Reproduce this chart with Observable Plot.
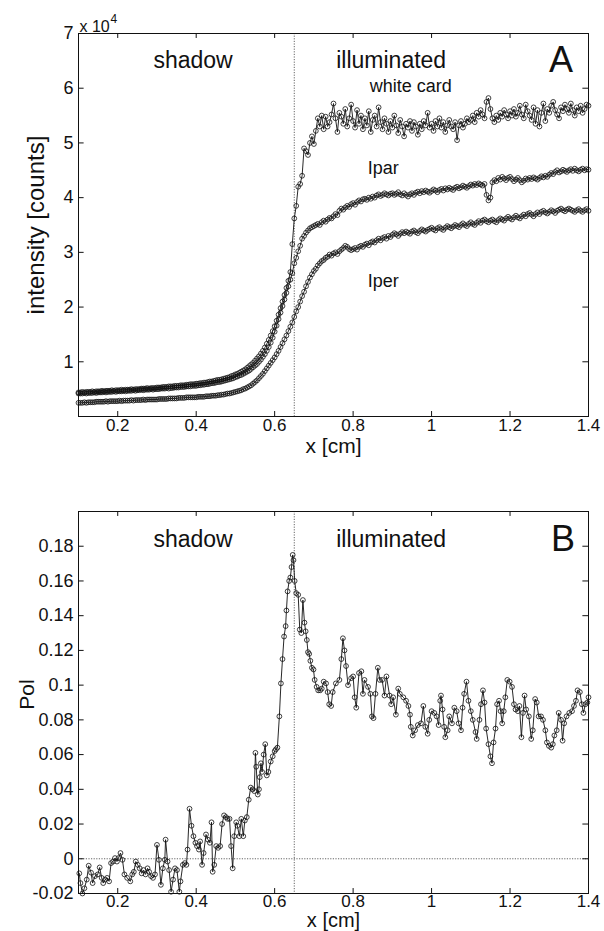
<!DOCTYPE html>
<html><head><meta charset="utf-8">
<script src="https://cdn.jsdelivr.net/npm/d3@7"></script>
<script src="https://cdn.jsdelivr.net/npm/@observablehq/plot@0.6"></script>
<style>
body{margin:0;background:#fff;font-family:"Liberation Sans",Arial,sans-serif}
#chart svg{display:block}
</style></head><body><div id="chart"></div>
<script>
// ---------- data ----------
// Panel A: sample grid start/step (cm); intensities in units of 10^4 counts
const xStart = 0.1, xStep = 0.005;
const whiteCard = [
0.44,0.44,0.45,0.44,0.45,0.45,0.45,0.46,0.45,0.46,
0.46,0.46,0.47,0.46,0.47,0.47,0.47,0.48,0.47,0.48,
0.48,0.48,0.49,0.48,0.49,0.49,0.49,0.50,0.49,0.50,
0.50,0.50,0.51,0.51,0.51,0.52,0.51,0.52,0.52,0.52,
0.53,0.53,0.53,0.54,0.54,0.54,0.55,0.55,0.55,0.56,
0.56,0.56,0.57,0.57,0.57,0.58,0.58,0.59,0.59,0.59,
0.60,0.60,0.61,0.61,0.62,0.62,0.63,0.64,0.64,0.65,
0.66,0.67,0.67,0.68,0.69,0.70,0.71,0.72,0.74,0.75,
0.77,0.78,0.80,0.82,0.84,0.86,0.89,0.92,0.95,0.98,
1.02,1.06,1.10,1.15,1.20,1.26,1.33,1.40,1.48,1.56,
1.65,1.75,1.86,1.98,2.10,2.22,2.35,2.48,2.64,3.15,
3.62,3.85,4.20,4.25,4.40,4.90,4.85,4.78,5.00,5.12,
4.98,5.22,5.45,5.30,5.50,5.25,5.48,5.30,5.38,5.52,
5.72,5.45,5.20,5.55,5.48,5.35,5.62,5.30,5.45,5.70,
5.40,5.28,5.60,5.35,5.50,5.25,5.45,5.32,5.58,5.20,
5.42,5.50,5.30,5.65,5.38,5.25,5.45,5.35,5.20,5.40,
5.28,5.50,5.32,5.18,5.42,5.30,5.12,5.35,5.28,5.40,
5.22,5.38,5.30,5.15,5.35,5.25,5.40,5.32,5.55,5.28,
5.35,5.22,5.40,5.30,5.45,5.28,5.38,5.20,5.32,5.42,
5.30,5.25,5.38,5.05,5.32,5.40,5.28,5.35,5.45,5.38,
5.42,5.50,5.38,5.55,5.48,5.60,5.52,5.45,5.75,5.82,
5.62,5.45,5.38,5.50,5.42,5.55,5.48,5.60,5.52,5.45,
5.58,5.50,5.62,5.48,5.55,5.68,5.52,5.45,5.70,5.58,
5.50,5.42,5.65,5.35,5.60,5.30,5.55,5.72,5.40,5.62,
5.55,5.68,5.75,5.60,5.52,5.45,5.65,5.58,5.70,5.62,
5.55,5.72,5.60,5.50,5.65,5.58,5.68,5.55,5.62,5.70,
5.68];
const iPar = [
0.42,0.42,0.42,0.43,0.42,0.43,0.43,0.43,0.44,0.43,
0.44,0.44,0.44,0.45,0.44,0.45,0.45,0.45,0.46,0.45,
0.46,0.46,0.46,0.47,0.46,0.47,0.47,0.47,0.48,0.47,
0.48,0.48,0.49,0.48,0.49,0.49,0.49,0.50,0.49,0.50,
0.50,0.50,0.51,0.51,0.51,0.52,0.51,0.52,0.52,0.53,
0.53,0.53,0.54,0.54,0.54,0.55,0.55,0.55,0.56,0.56,
0.56,0.57,0.57,0.58,0.58,0.59,0.59,0.60,0.61,0.61,
0.62,0.63,0.63,0.64,0.65,0.66,0.67,0.68,0.69,0.70,
0.72,0.73,0.75,0.76,0.78,0.80,0.82,0.84,0.87,0.90,
0.93,0.96,1.00,1.04,1.09,1.14,1.20,1.27,1.35,1.44,
1.55,1.66,1.78,1.90,2.02,2.14,2.26,2.38,2.50,2.62,
2.80,2.90,3.02,3.12,3.25,3.30,3.36,3.40,3.44,3.46,
3.48,3.50,3.52,3.50,3.55,3.58,3.56,3.60,3.63,3.62,
3.66,3.70,3.68,3.76,3.80,3.78,3.82,3.85,3.83,3.88,
3.90,3.87,3.92,3.95,3.93,3.97,3.98,3.96,4.00,3.98,
4.02,4.00,4.04,4.06,4.03,4.05,4.08,4.06,4.04,4.07,
4.08,4.05,4.07,4.10,4.06,4.04,4.08,4.05,4.02,4.06,
4.08,4.05,4.09,4.11,4.08,4.12,4.10,4.13,4.11,4.09,
4.12,4.15,4.13,4.10,4.14,4.16,4.13,4.17,4.15,4.18,
4.16,4.14,4.18,4.20,4.17,4.19,4.22,4.20,4.18,4.21,
4.24,4.22,4.25,4.23,4.26,4.24,4.22,4.25,4.05,3.95,
4.00,4.28,4.32,4.30,4.36,4.33,4.38,4.35,4.32,4.36,
4.38,4.34,4.30,4.33,4.36,4.32,4.28,4.31,4.35,4.33,
4.36,4.34,4.37,4.35,4.33,4.36,4.39,4.37,4.40,4.38,
4.42,4.45,4.43,4.47,4.50,4.46,4.48,4.51,4.49,4.47,
4.50,4.52,4.49,4.53,4.50,4.48,4.51,4.53,4.50,4.52,
4.51];
const iPer = [
0.25,0.25,0.25,0.26,0.25,0.26,0.26,0.26,0.26,0.27,
0.27,0.27,0.27,0.27,0.28,0.27,0.28,0.28,0.28,0.28,
0.28,0.29,0.28,0.29,0.29,0.29,0.29,0.30,0.29,0.30,
0.30,0.30,0.30,0.31,0.30,0.31,0.31,0.31,0.31,0.31,
0.31,0.32,0.32,0.32,0.32,0.32,0.33,0.33,0.33,0.33,
0.33,0.34,0.34,0.34,0.34,0.35,0.35,0.35,0.35,0.35,
0.35,0.36,0.36,0.36,0.36,0.37,0.37,0.37,0.38,0.38,
0.38,0.39,0.39,0.40,0.40,0.41,0.42,0.42,0.43,0.44,
0.45,0.46,0.47,0.48,0.50,0.51,0.53,0.55,0.57,0.60,
0.63,0.66,0.70,0.74,0.78,0.83,0.88,0.93,0.98,1.03,
1.08,1.14,1.20,1.27,1.34,1.41,1.48,1.56,1.64,1.72,
1.82,1.92,2.00,2.10,2.20,2.28,2.38,2.46,2.54,2.60,
2.66,2.70,2.76,2.80,2.84,2.86,2.90,2.92,2.96,2.94,
2.98,3.00,2.97,3.02,3.05,3.08,3.12,3.10,3.06,3.04,
3.06,3.08,3.05,3.10,3.12,3.10,3.14,3.16,3.13,3.18,
3.20,3.18,3.22,3.25,3.22,3.26,3.28,3.25,3.30,3.28,
3.32,3.35,3.33,3.30,3.34,3.37,3.35,3.38,3.36,3.34,
3.38,3.40,3.37,3.35,3.39,3.42,3.40,3.38,3.41,3.43,
3.45,3.42,3.40,3.44,3.46,3.43,3.41,3.45,3.48,3.46,
3.44,3.47,3.50,3.48,3.46,3.50,3.53,3.50,3.48,3.52,
3.55,3.52,3.50,3.54,3.57,3.54,3.58,3.60,3.57,3.55,
3.58,3.60,3.57,3.55,3.59,3.62,3.60,3.58,3.62,3.65,
3.62,3.60,3.64,3.67,3.64,3.62,3.66,3.69,3.66,3.70,
3.72,3.69,3.66,3.70,3.73,3.70,3.74,3.76,3.73,3.71,
3.74,3.77,3.75,3.72,3.76,3.78,3.80,3.77,3.75,3.78,
3.80,3.78,3.76,3.74,3.77,3.79,3.76,3.74,3.77,3.79,
3.76];

// Panel B: polarization samples
const polX = [0.102,0.105,0.110,0.115,0.121,0.126,0.132,0.136,0.142,0.149,0.154,0.159,0.163,0.168,0.173,0.178,0.183,0.188,0.193,0.198,
0.202,0.207,0.212,0.217,0.224,0.232,0.237,0.241,0.246,0.251,0.256,0.261,0.266,0.271,0.276,0.280,0.285,0.290,0.295,0.300,
0.305,0.310,0.315,0.320,0.322,0.327,0.331,0.336,0.341,0.346,0.351,0.357,0.360,0.366,0.371,0.375,0.378,0.383,0.388,0.393,
0.398,0.402,0.407,0.410,0.415,0.419,0.425,0.430,0.435,0.439,0.442,0.446,0.451,0.456,0.461,0.466,0.471,0.476,0.480,0.485,
0.489,0.493,0.497,0.502,0.505,0.510,0.515,0.520,0.524,0.529,0.534,0.539,0.544,0.548,0.551,0.553,0.557,0.560,0.562,0.565,
0.568,0.572,0.576,0.580,0.584,0.590,0.595,0.600,0.603,0.607,0.612,0.616,0.620,0.624,0.628,0.630,0.633,0.637,0.640,0.643,
0.646,0.648,0.651,0.655,0.660,0.664,0.668,0.672,0.676,0.679,0.682,0.685,0.688,0.691,0.695,0.699,0.702,0.707,0.711,0.716,
0.720,0.725,0.731,0.735,0.739,0.744,0.748,0.756,0.765,0.770,0.774,0.778,0.782,0.787,0.795,0.800,0.804,0.808,0.815,0.821,
0.825,0.829,0.838,0.844,0.848,0.852,0.857,0.863,0.868,0.874,0.880,0.885,0.893,0.897,0.902,0.909,0.915,0.919,0.928,0.935,
0.941,0.945,0.947,0.952,0.958,0.965,0.973,0.979,0.984,0.990,0.994,1.000,1.007,1.013,1.018,1.022,1.024,1.028,1.032,1.035,
1.041,1.045,1.052,1.058,1.064,1.069,1.075,1.079,1.083,1.089,1.094,1.100,1.105,1.112,1.115,1.122,1.126,1.131,1.135,1.139,
1.145,1.150,1.154,1.158,1.163,1.167,1.172,1.176,1.180,1.184,1.188,1.193,1.199,1.205,1.210,1.214,1.220,1.224,1.229,1.233,
1.237,1.241,1.248,1.254,1.258,1.264,1.268,1.273,1.279,1.284,1.290,1.294,1.299,1.305,1.309,1.313,1.319,1.324,1.330,1.334,
1.338,1.344,1.351,1.358,1.363,1.368,1.372,1.378,1.383,1.387,1.392,1.397,1.400];
const polY = [-0.0084,-0.014,-0.020,-0.017,-0.012,-0.004,-0.008,-0.014,-0.010,-0.009,-0.005,-0.011,-0.014,-0.012,-0.011,-0.013,-0.0025,-0.0016,0.0004,-0.0016,
0.0004,0.0033,-0.0006,-0.009,-0.011,-0.013,-0.009,-0.0075,-0.0016,-0.0035,-0.0055,-0.0084,-0.0065,-0.009,-0.0055,-0.0075,-0.010,-0.011,-0.009,0.008,
-0.0006,-0.015,-0.0055,-0.0006,0.011,-0.0016,-0.0065,-0.019,-0.012,-0.0055,-0.0065,-0.019,-0.013,-0.0035,-0.0025,-0.0035,0.0053,0.0288,0.019,0.013,
0.0092,0.0073,0.0053,0.010,-0.0035,0.0033,0.014,0.011,0.0092,0.021,-0.0075,-0.0035,0.0073,0.0063,0.0073,0.020,0.025,0.024,0.023,0.023,
0.0073,-0.0055,0.013,0.021,0.019,0.013,0.023,0.013,0.022,0.024,0.034,0.041,0.040,0.039,0.061,0.053,0.037,0.040,0.047,0.055,
0.050,0.060,0.066,0.048,0.050,0.056,0.059,0.062,0.063,0.064,0.082,0.101,0.115,0.128,0.134,0.143,0.154,0.160,0.162,0.168,
0.175,0.172,0.160,0.153,0.152,0.132,0.130,0.149,0.136,0.131,0.126,0.119,0.118,0.114,0.110,0.109,0.103,0.099,0.097,0.097,
0.098,0.102,0.101,0.096,0.089,0.088,0.096,0.101,0.103,0.115,0.127,0.120,0.111,0.100,0.104,0.105,0.093,0.087,0.107,0.108,
0.095,0.103,0.099,0.095,0.082,0.081,0.095,0.110,0.103,0.103,0.094,0.105,0.094,0.089,0.093,0.083,0.098,0.095,0.093,0.091,
0.088,0.083,0.076,0.071,0.074,0.077,0.078,0.088,0.076,0.072,0.080,0.085,0.084,0.082,0.077,0.091,0.094,0.086,0.076,0.070,
0.074,0.082,0.078,0.087,0.085,0.078,0.074,0.087,0.095,0.102,0.091,0.085,0.080,0.073,0.069,0.080,0.089,0.097,0.090,0.075,
0.066,0.059,0.055,0.067,0.075,0.089,0.091,0.085,0.078,0.085,0.093,0.103,0.102,0.099,0.089,0.086,0.085,0.088,0.070,0.084,
0.094,0.086,0.082,0.069,0.074,0.092,0.090,0.082,0.082,0.080,0.074,0.067,0.065,0.064,0.066,0.071,0.074,0.084,0.080,0.068,
0.078,0.082,0.084,0.085,0.088,0.091,0.097,0.096,0.089,0.084,0.089,0.090,0.093];

// Axes, annotations
const xTicks = [0.2, 0.4, 0.6, 0.8, 1, 1.2, 1.4];
const intensityTicks = [1, 2, 3, 4, 5, 6, 7];
const polTicks = [-0.02, 0, 0.02, 0.04, 0.06, 0.08, 0.1, 0.12, 0.14, 0.16, 0.18];
const edgeX = 0.65;
const regionLabels = ["shadow", "illuminated"];
const regionLabelX = [0.392, 0.897];
const panelA_labelY = 6.5, panelB_labelY = 0.184;
const curveLabels = ["white card", "Ipar", "Iper"];
const curveLabelX = [0.947, 0.877, 0.877];
const curveLabelY = [6.03, 4.53, 2.48];

// ---------- build ----------
const font = '"Liberation Sans", Arial, Helvetica, sans-serif';
const ink = "#111";
const fmt = d => String(+(+d).toFixed(2));
const gridX = i => +(xStart + i * xStep).toFixed(3);
const rowsA = [
  ...whiteCard.map((v, i) => ({series: "white card", x: gridX(i), y: v})),
  ...iPar.map((v, i) => ({series: "Ipar", x: gridX(i), y: v})),
  ...iPer.map((v, i) => ({series: "Iper", x: gridX(i), y: v}))
];
const rowsB = polX.map((x, i) => ({x, y: polY[i]}));

function frameTicks(yTicks, xDom, yDom) {
  const tx = (xDom[1] - xDom[0]) * 0.011, ty = (yDom[1] - yDom[0]) * 0.013;
  const st = {stroke: ink, strokeWidth: 1};
  return [
    Plot.ruleX(xTicks, {x: d => d, y1: yDom[0], y2: yDom[0] + ty, ...st}),
    Plot.ruleX(xTicks, {x: d => d, y1: yDom[1], y2: yDom[1] - ty, ...st}),
    Plot.ruleY(yTicks, {y: d => d, x1: xDom[0], x2: xDom[0] + tx, ...st}),
    Plot.ruleY(yTicks, {y: d => d, x1: xDom[1], x2: xDom[1] - tx, ...st})
  ];
}

const common = {
  width: 604, marginLeft: 78, marginRight: 16,
  style: {fontFamily: font, color: ink, background: "#fff", overflow: "visible"}
};

const xDom = [0.1, 1.4];
const yDomA = [0, 7], yDomB = [-0.02, 0.2];

const chartA = Plot.plot({
  ...common, height: 460, marginTop: 33, marginBottom: 44,
  x: {domain: xDom, label: null}, y: {domain: yDomA, label: null},
  marks: [
    Plot.ruleX([edgeX], {stroke: "#555", strokeWidth: 0.9, strokeDasharray: "1.2,1.4"}),
    Plot.line(rowsA, {x: "x", y: "y", z: "series", stroke: ink, strokeWidth: 0.9}),
    Plot.dot(rowsA, {x: "x", y: "y", r: 2.4, stroke: ink, strokeWidth: 0.8, fill: "none"}),
    Plot.frame({stroke: ink, strokeWidth: 1}),
    ...frameTicks(intensityTicks, xDom, yDomA),
    Plot.axisX(xTicks, {tickSize: 0, tickPadding: 2, tickFormat: fmt, fontSize: 17, label: null}),
    Plot.axisY(intensityTicks, {tickSize: 0, tickPadding: 5, tickFormat: fmt, fontSize: 18, label: null}),
    Plot.text(["x [cm]"], {text: d => d, frameAnchor: "bottom", lineAnchor: "top", dy: 22, fontSize: 21, fill: ink}),
    Plot.text(["intensity [counts]"], {text: d => d, frameAnchor: "left", textAnchor: "middle", dx: -42, rotate: -90, fontSize: 24, fill: ink}),
    Plot.text(["x 10"], {text: d => d, frameAnchor: "top-left", textAnchor: "start", lineAnchor: "bottom", dx: 1, dy: -2, fontSize: 16, fill: ink}),
    Plot.text(["4"], {text: d => d, frameAnchor: "top-left", textAnchor: "start", lineAnchor: "bottom", dx: 32, dy: -11, fontSize: 12, fill: ink}),
    Plot.text(regionLabels, {text: d => d, x: (d, i) => regionLabelX[i], y: panelA_labelY, fontSize: 23, fill: ink}),
    Plot.text(["A"], {text: d => d, x: 1.33, y: panelA_labelY, fontSize: 36, fill: ink}),
    Plot.text(curveLabels, {text: d => d, x: (d, i) => curveLabelX[i], y: (d, i) => curveLabelY[i], fontSize: 18, fill: ink})
  ]
});

const chartB = Plot.plot({
  ...common, height: 471, marginTop: 51, marginBottom: 38,
  x: {domain: xDom, label: null}, y: {domain: yDomB, label: null},
  marks: [
    Plot.ruleY([0], {stroke: "#555", strokeWidth: 0.9, strokeDasharray: "1.2,1.4"}),
    Plot.ruleX([edgeX], {stroke: "#555", strokeWidth: 0.9, strokeDasharray: "1.2,1.4"}),
    Plot.line(rowsB, {x: "x", y: "y", stroke: ink, strokeWidth: 0.9}),
    Plot.dot(rowsB, {x: "x", y: "y", r: 2.4, stroke: ink, strokeWidth: 0.8, fill: "none"}),
    Plot.frame({stroke: ink, strokeWidth: 1}),
    ...frameTicks(polTicks, xDom, yDomB),
    Plot.axisX(xTicks, {tickSize: 0, tickPadding: 1, tickFormat: fmt, fontSize: 17, label: null}),
    Plot.axisY(polTicks, {tickSize: 0, tickPadding: 5, tickFormat: fmt, fontSize: 18, label: null}),
    Plot.text(["x [cm]"], {text: d => d, frameAnchor: "bottom", lineAnchor: "top", dy: 19, fontSize: 20, fill: ink}),
    Plot.text(["Pol"], {text: d => d, frameAnchor: "left", textAnchor: "middle", dx: -51, dy: -8, rotate: -90, fontSize: 21, fill: ink}),
    Plot.text(regionLabels, {text: d => d, x: (d, i) => regionLabelX[i], y: panelB_labelY, fontSize: 23, fill: ink}),
    Plot.text(["B"], {text: d => d, x: 1.335, y: panelB_labelY, fontSize: 36, fill: ink})
  ]
});

const root = document.getElementById("chart");
root.appendChild(chartA);
root.appendChild(chartB);
</script>
</body></html>
